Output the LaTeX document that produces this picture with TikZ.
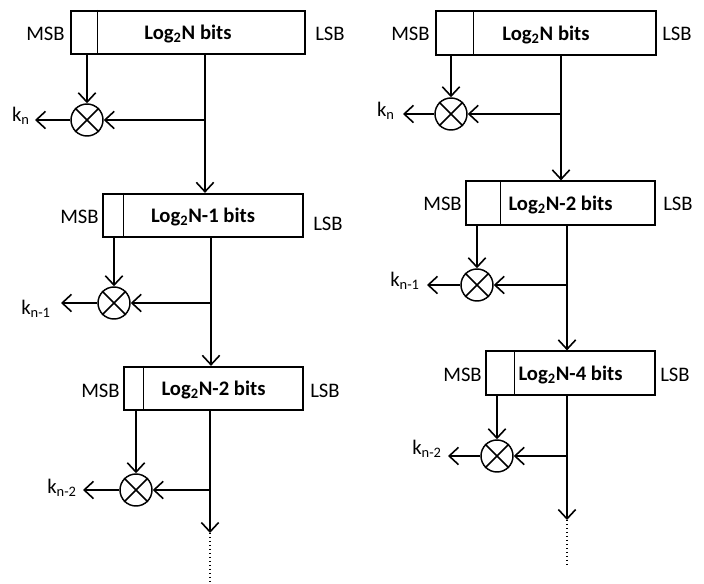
\documentclass[tikz,border=0pt]{standalone}
\usepackage{fontspec}
\setmainfont{Carlito}
\usetikzlibrary{arrows.meta}
\newcommand{\pfont}{\fontsize{15.5}{18}\selectfont}
\tikzset{
  reg/.style={draw, line width=1.4pt, inner sep=0pt, minimum height=32.5pt, text depth=0pt, font=\pfont\bfseries},
  xorop/.style={draw, circle, line width=1.1pt, minimum size=24pt, inner sep=0pt},
  flow/.style={line width=1.4pt, -{Straight Barb[length=7pt,width=13pt,line width=1.2pt]}},
  wire/.style={line width=1.4pt},
  lbl/.style={inner sep=0.75pt},
}
\newcommand{\sbits}[1]{Log\textsubscript{2}N#1 bits}
\newcommand{\kout}[1]{k\textsubscript{#1}}
\begin{document}
\begin{tikzpicture}[x=0.75pt,y=0.75pt,yscale=-1,xscale=1,font=\pfont]
\useasboundingbox (0,0) rectangle (704,584);

%Shape: registers, left column
\node [reg, minimum width=175.5pt] (reg1) at (188,32.5) {\sbits{}};
\node [reg, minimum width=150pt] (reg2) at (203,215.5) {\sbits{-1}};
\node [reg, minimum width=134.25pt] (reg3) at (213.5,388.5) {\sbits{-2}};
%Shape: registers, right column
\node [reg, minimum width=165pt] (rreg1) at (546,33) {\sbits{}};
\node [reg, minimum width=141.75pt] (rreg2) at (560.5,203) {\sbits{-2}};
\node [reg, minimum width=126.75pt] (rreg3) at (570.5,373) {\sbits{-4}};

%Straight Lines: MSB dividers
\draw [line width=0.6pt] ([xshift=20.25pt]reg1.north west) -- ([xshift=20.25pt]reg1.south west);
\draw [line width=0.6pt] ([xshift=15.75pt]reg2.north west) -- ([xshift=15.75pt]reg2.south west);
\draw [line width=0.6pt] ([xshift=15pt]reg3.north west) -- ([xshift=15pt]reg3.south west);
\draw [line width=0.6pt] ([xshift=28.5pt]rreg1.north west) -- ([xshift=28.5pt]rreg1.south west);
\draw [line width=0.6pt] ([xshift=26.25pt]rreg2.north west) -- ([xshift=26.25pt]rreg2.south west);
\draw [line width=0.6pt] ([xshift=21.75pt]rreg3.north west) -- ([xshift=21.75pt]rreg3.south west);

% Text Node: MSB / LSB
\node [lbl, anchor=east] (msb1) at (66,34) {MSB};
\node [lbl, anchor=west] (lsb1) at (314,34) {LSB};
\node [lbl, anchor=east] (msb2) at (100,217) {MSB};
\node [lbl, anchor=west] (lsb2) at (312,224) {LSB};
\node [lbl, anchor=east] (msb3) at (121,391) {MSB};
\node [lbl, anchor=west] (lsb3) at (309,391) {LSB};
\node [lbl, anchor=east] (rmsb1) at (431,34) {MSB};
\node [lbl, anchor=west] (rlsb1) at (661,34) {LSB};
\node [lbl, anchor=east] (rmsb2) at (463,204) {MSB};
\node [lbl, anchor=west] (rlsb2) at (662,204) {LSB};
\node [lbl, anchor=east] (rmsb3) at (483,375) {MSB};
\node [lbl, anchor=west] (rlsb3) at (659,375) {LSB};

%Shape: XOR circles
\node [xorop] (x1) at (87,120) {};
\node [xorop] (x2) at (114,303) {};
\node [xorop] (x3) at (136,490) {};
\node [xorop] (rx1) at (451,114) {};
\node [xorop] (rx2) at (477,285) {};
\node [xorop] (rx3) at (497,456) {};
\foreach \c in {x1,x2,x3,rx1,rx2,rx3}
  \draw [line width=1.1pt] (\c.north west) -- (\c.south east) (\c.north east) -- (\c.south west);

%Coordinates: taps and ends
\coordinate (t1) at (205,120);
\coordinate (t2) at (211,303);
\coordinate (t3) at (210,490);
\coordinate (rt1) at (561,114);
\coordinate (rt2) at (567,285);
\coordinate (rt3) at (567,456);
\coordinate (e3) at (210,533);
\coordinate (d3) at (210,583);
\coordinate (re3) at (567,520);
\coordinate (rd3) at (567,566);
\coordinate (k1) at (35,120);
\coordinate (k2) at (61,303);
\coordinate (k3) at (83,490);
\coordinate (rk1) at (403,114);
\coordinate (rk2) at (427,285);
\coordinate (rk3) at (448,456);

%Straight Lines: MSB into XOR
\draw [flow] (reg1.south -| x1) -- (x1.north);
\draw [flow] (reg2.south -| x2) -- (x2.north);
\draw [flow] (reg3.south -| x3) -- (x3.north);
\draw [flow] (rreg1.south -| rx1) -- (rx1.north);
\draw [flow] (rreg2.south -| rx2) -- (rx2.north);
\draw [flow] (rreg3.south -| rx3) -- (rx3.north);

%Straight Lines: shifted register down
\draw [wire] (reg1.south -| t1) -- (t1);
\draw [flow] (t1) -- (reg2.north -| t1);
\draw [wire] (reg2.south -| t2) -- (t2);
\draw [flow] (t2) -- (reg3.north -| t2);
\draw [wire] (reg3.south -| t3) -- (t3);
\draw [flow] (t3) -- (e3);
\draw [line width=1pt, dotted] (e3) -- (d3);
\draw [wire] (rreg1.south -| rt1) -- (rt1);
\draw [flow] (rt1) -- (rreg2.north -| rt1);
\draw [wire] (rreg2.south -| rt2) -- (rt2);
\draw [flow] (rt2) -- (rreg3.north -| rt2);
\draw [wire] (rreg3.south -| rt3) -- (rt3);
\draw [flow] (rt3) -- (re3);
\draw [line width=1pt, dotted] (re3) -- (rd3);

%Straight Lines: taps into XOR
\draw [flow] (t1) -- (x1.east);
\draw [flow] (t2) -- (x2.east);
\draw [flow] (t3) -- (x3.east);
\draw [flow] (rt1) -- (rx1.east);
\draw [flow] (rt2) -- (rx2.east);
\draw [flow] (rt3) -- (rx3.east);

%Straight Lines: key bits out
\draw [flow] (x1.west) -- (k1);
\draw [flow] (x2.west) -- (k2);
\draw [flow] (x3.west) -- (k3);
\draw [flow] (rx1.west) -- (rk1);
\draw [flow] (rx2.west) -- (rk2);
\draw [flow] (rx3.west) -- (rk3);

% Text Node: key bits
\node [lbl, anchor=east] (kn1) at (31,116) {\kout{n}};
\node [lbl, anchor=east] (kn2) at (52,309) {\kout{n-1}};
\node [lbl, anchor=east] (kn3) at (78,488) {\kout{n-2}};
\node [lbl, anchor=east] (rkn1) at (396,111) {\kout{n}};
\node [lbl, anchor=east] (rkn2) at (421,281) {\kout{n-1}};
\node [lbl, anchor=east] (rkn3) at (443,449) {\kout{n-2}};

\end{tikzpicture}
\end{document}
